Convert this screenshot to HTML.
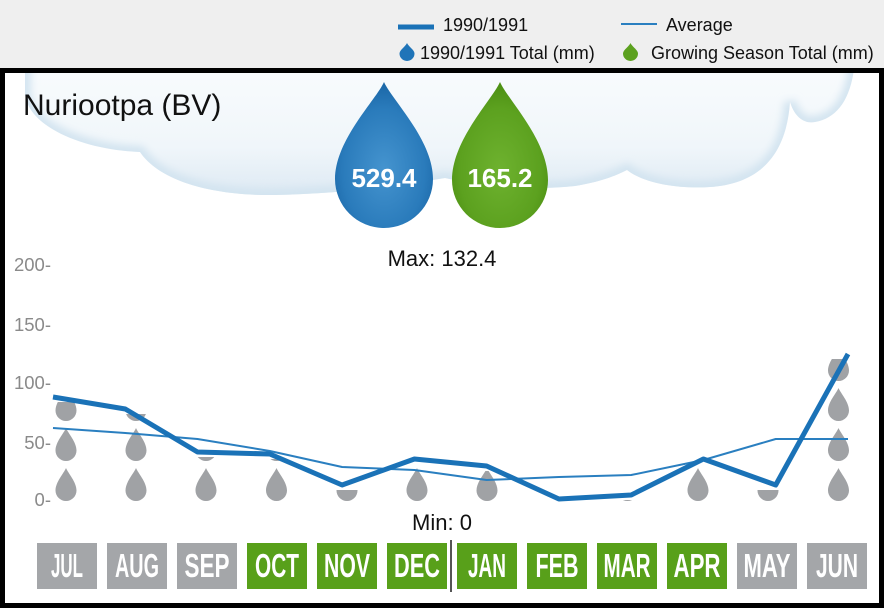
<!DOCTYPE html>
<html><head><meta charset="utf-8"><style>
html,body{margin:0;padding:0;background:#fff;}
svg{display:block;}
text{font-family:"Liberation Sans",Arial,sans-serif;}
</style></head><body>
<svg width="884" height="608" viewBox="0 0 884 608" xmlns="http://www.w3.org/2000/svg">
<defs>
  <linearGradient id="cg" x1="0" y1="73" x2="0" y2="196" gradientUnits="userSpaceOnUse">
    <stop offset="0" stop-color="#f8fbfd"/>
    <stop offset="0.6" stop-color="#f0f6fa"/>
    <stop offset="1" stop-color="#dde9f3"/>
  </linearGradient>
  <radialGradient id="bg" cx="0.5" cy="0.6" r="0.6">
    <stop offset="0" stop-color="#4594cf"/>
    <stop offset="0.7" stop-color="#2a7bbb"/>
    <stop offset="1" stop-color="#1a66a6"/>
  </radialGradient>
  <radialGradient id="gg" cx="0.5" cy="0.6" r="0.6">
    <stop offset="0" stop-color="#6eb22f"/>
    <stop offset="0.7" stop-color="#5ca11f"/>
    <stop offset="1" stop-color="#4b8e12"/>
  </radialGradient>
  <filter id="bl" x="-10%" y="-10%" width="120%" height="120%"><feGaussianBlur stdDeviation="4"/></filter>
  <clipPath id="inner"><rect x="5" y="73" width="874" height="530"/></clipPath>
  <clipPath id="cloudc"><path d="M25,60 L25,95 C30,128 85,150 140,152 C160,182 215,196 275,195 C340,194 395,186 445,178 C480,186 530,191 575,186 C600,182 615,176 627,170 C645,184 680,189 710,187 C755,184 786,160 790,102 C795,118 805,124 815,122 C838,118 852,98 855,60 Z"/></clipPath>
  <path id="d" d="M0,-33 C2,-28 10.5,-19 10.5,-10.5 A10.5,10.5 0 0 1 -10.5,-10.5 C-10.5,-19 -2,-28 0,-33Z" fill="#a0a2a5"/>
  <clipPath id="c0"><rect x="0" y="402" width="884" height="120"/></clipPath>
  <clipPath id="c1"><rect x="0" y="414" width="884" height="120"/></clipPath>
  <clipPath id="c2"><rect x="0" y="457" width="884" height="120"/></clipPath>
  <clipPath id="c3"><rect x="0" y="459" width="884" height="120"/></clipPath>
  <clipPath id="c4"><rect x="0" y="490" width="884" height="120"/></clipPath>
  <clipPath id="c5"><rect x="0" y="464" width="884" height="120"/></clipPath>
  <clipPath id="c6"><rect x="0" y="471" width="884" height="120"/></clipPath>
  <clipPath id="c8"><rect x="0" y="500" width="884" height="120"/></clipPath>
  <clipPath id="c9"><rect x="0" y="464" width="884" height="120"/></clipPath>
  <clipPath id="c10"><rect x="0" y="490" width="884" height="120"/></clipPath>
  <clipPath id="c11"><rect x="0" y="359" width="884" height="160"/></clipPath>
</defs>

<!-- top legend band -->
<rect x="0" y="0" width="884" height="68" fill="#efefef"/>
<rect x="398" y="24.5" width="36" height="5" fill="#1a72b7"/>
<text x="443" y="31" font-size="18" fill="#111">1990/1991</text>
<rect x="621" y="23" width="36" height="2" fill="#2a7fc0"/>
<text x="666" y="31" font-size="18" fill="#111">Average</text>
<path d="M407,43 C408,46 414.5,50 414.5,53.5 A7.5,7.5 0 0 1 399.5,53.5 C399.5,50 406,46 407,43Z" fill="#1f74b8"/>
<text x="420" y="59" font-size="18" fill="#111">1990/1991 Total (mm)</text>
<path d="M630.5,43 C631.5,46 638,50 638,53.5 A7.5,7.5 0 0 1 623,53.5 C623,50 629.5,46 630.5,43Z" fill="#5ca11f"/>
<text x="651" y="59" font-size="18" fill="#111">Growing Season Total (mm)</text>

<!-- frame -->
<rect x="0" y="68" width="884" height="540" fill="#000"/>
<rect x="5" y="73" width="874" height="530" fill="#fff"/>

<g clip-path="url(#inner)">
  <!-- cloud -->
  <path d="M25,60 L25,95 C30,128 85,150 140,152 C160,182 215,196 275,195 C340,194 395,186 445,178 C480,186 530,191 575,186 C600,182 615,176 627,170 C645,184 680,189 710,187 C755,184 786,160 790,102 C795,118 805,124 815,122 C838,118 852,98 855,60 Z" fill="url(#cg)"/>
  <g clip-path="url(#cloudc)">
    <path d="M25,60 L25,95 C30,128 85,150 140,152 C160,182 215,196 275,195 C340,194 395,186 445,178 C480,186 530,191 575,186 C600,182 615,176 627,170 C645,184 680,189 710,187 C755,184 786,160 790,102 C795,118 805,124 815,122 C838,118 852,98 855,60" fill="none" stroke="#d3e4f0" stroke-width="12" filter="url(#bl)"/>
  </g>

  <text x="23" y="115" font-size="30" fill="#111">Nuriootpa (BV)</text>

  <!-- big drops -->
  <path d="M384,82 C392,100 433,140 433,179 A49,49 0 0 1 335,179 C335,140 376,100 384,82Z" fill="url(#bg)"/>
  <text x="384" y="187" font-size="26" font-weight="bold" fill="#fff" text-anchor="middle">529.4</text>
  <path d="M500,82 C508,100 548,140 548,180 A48,48 0 0 1 452,180 C452,140 492,100 500,82Z" fill="url(#gg)"/>
  <text x="500" y="187" font-size="26" font-weight="bold" fill="#fff" text-anchor="middle">165.2</text>

  <text x="442" y="266" font-size="22" fill="#111" text-anchor="middle">Max: 132.4</text>
  <text x="442" y="530" font-size="22" fill="#111" text-anchor="middle">Min: 0</text>

  <!-- y axis labels -->
  <g font-size="18.5" fill="#8a8a8a" text-anchor="end">
    <text x="51" y="271">200-</text>
    <text x="51" y="331">150-</text>
    <text x="51" y="389">100-</text>
    <text x="51" y="449">50-</text>
    <text x="51" y="506">0-</text>
  </g>

  <!-- grey drops -->
  <g clip-path="url(#c0)"><use href="#d" x="66" y="501"/><use href="#d" x="66" y="461"/><use href="#d" x="66" y="421"/></g>
  <g clip-path="url(#c1)"><use href="#d" x="136" y="501"/><use href="#d" x="136" y="461"/><use href="#d" x="136" y="421"/></g>
  <g clip-path="url(#c2)"><use href="#d" x="206" y="501"/><use href="#d" x="206" y="461"/></g>
  <g clip-path="url(#c3)"><use href="#d" x="276.5" y="501"/><use href="#d" x="276.5" y="461"/></g>
  <g clip-path="url(#c4)"><use href="#d" x="347" y="501"/></g>
  <g clip-path="url(#c5)"><use href="#d" x="417" y="501"/></g>
  <g clip-path="url(#c6)"><use href="#d" x="487" y="501"/></g>
  <g clip-path="url(#c8)"><use href="#d" x="627.5" y="501"/></g>
  <g clip-path="url(#c9)"><use href="#d" x="698" y="501"/></g>
  <g clip-path="url(#c10)"><use href="#d" x="768" y="501"/></g>
  <g clip-path="url(#c11)"><use href="#d" x="838.5" y="501"/><use href="#d" x="838.5" y="461"/><use href="#d" x="838.5" y="421"/><use href="#d" x="838.5" y="381"/></g>

  <!-- average line -->
  <polyline fill="none" stroke="#2a7fc0" stroke-width="2" stroke-linejoin="round"
    points="53,428 125.3,433 197.5,439 269.8,451 342.1,467 414.4,470 486.6,480 558.9,477 631.2,475 703.4,460 775.7,439 848,439"/>
  <!-- 1990/1991 line -->
  <polyline fill="none" stroke="#1a72b7" stroke-width="5" stroke-linejoin="round"
    points="53,397 125.3,409 197.5,452 269.8,454 342.1,485 414.4,459 486.6,466 558.9,499 631.2,495 703.4,459 775.7,485 848,354"/>

  <!-- month boxes -->
  <g fill="#a4a6a9">
    <rect x="37" y="543" width="60" height="46"/>
    <rect x="107" y="543" width="60" height="46"/>
    <rect x="177" y="543" width="60" height="46"/>
    <rect x="737" y="543" width="60" height="46"/>
    <rect x="807" y="543" width="60" height="46"/>
  </g>
  <g fill="#58a01a">
    <rect x="247" y="543" width="60" height="46"/>
    <rect x="317" y="543" width="60" height="46"/>
    <rect x="387" y="543" width="60" height="46"/>
    <rect x="457" y="543" width="60" height="46"/>
    <rect x="527" y="543" width="60" height="46"/>
    <rect x="597" y="543" width="60" height="46"/>
    <rect x="667" y="543" width="60" height="46"/>
  </g>
  <rect x="450" y="540" width="2" height="52" fill="#555"/>
  <g font-size="33" font-weight="bold" fill="#fff" text-anchor="middle">
    <text x="67" y="577" textLength="32" lengthAdjust="spacingAndGlyphs">JUL</text>
    <text x="137" y="577" textLength="44" lengthAdjust="spacingAndGlyphs">AUG</text>
    <text x="207" y="577" textLength="45" lengthAdjust="spacingAndGlyphs">SEP</text>
    <text x="277" y="577" textLength="44" lengthAdjust="spacingAndGlyphs">OCT</text>
    <text x="347" y="577" textLength="46" lengthAdjust="spacingAndGlyphs">NOV</text>
    <text x="417" y="577" textLength="46" lengthAdjust="spacingAndGlyphs">DEC</text>
    <text x="487" y="577" textLength="38" lengthAdjust="spacingAndGlyphs">JAN</text>
    <text x="557" y="577" textLength="43" lengthAdjust="spacingAndGlyphs">FEB</text>
    <text x="627" y="577" textLength="47" lengthAdjust="spacingAndGlyphs">MAR</text>
    <text x="697" y="577" textLength="47" lengthAdjust="spacingAndGlyphs">APR</text>
    <text x="767" y="577" textLength="47" lengthAdjust="spacingAndGlyphs">MAY</text>
    <text x="837" y="577" textLength="42" lengthAdjust="spacingAndGlyphs">JUN</text>
  </g>
</g>
</svg>
</body></html>
